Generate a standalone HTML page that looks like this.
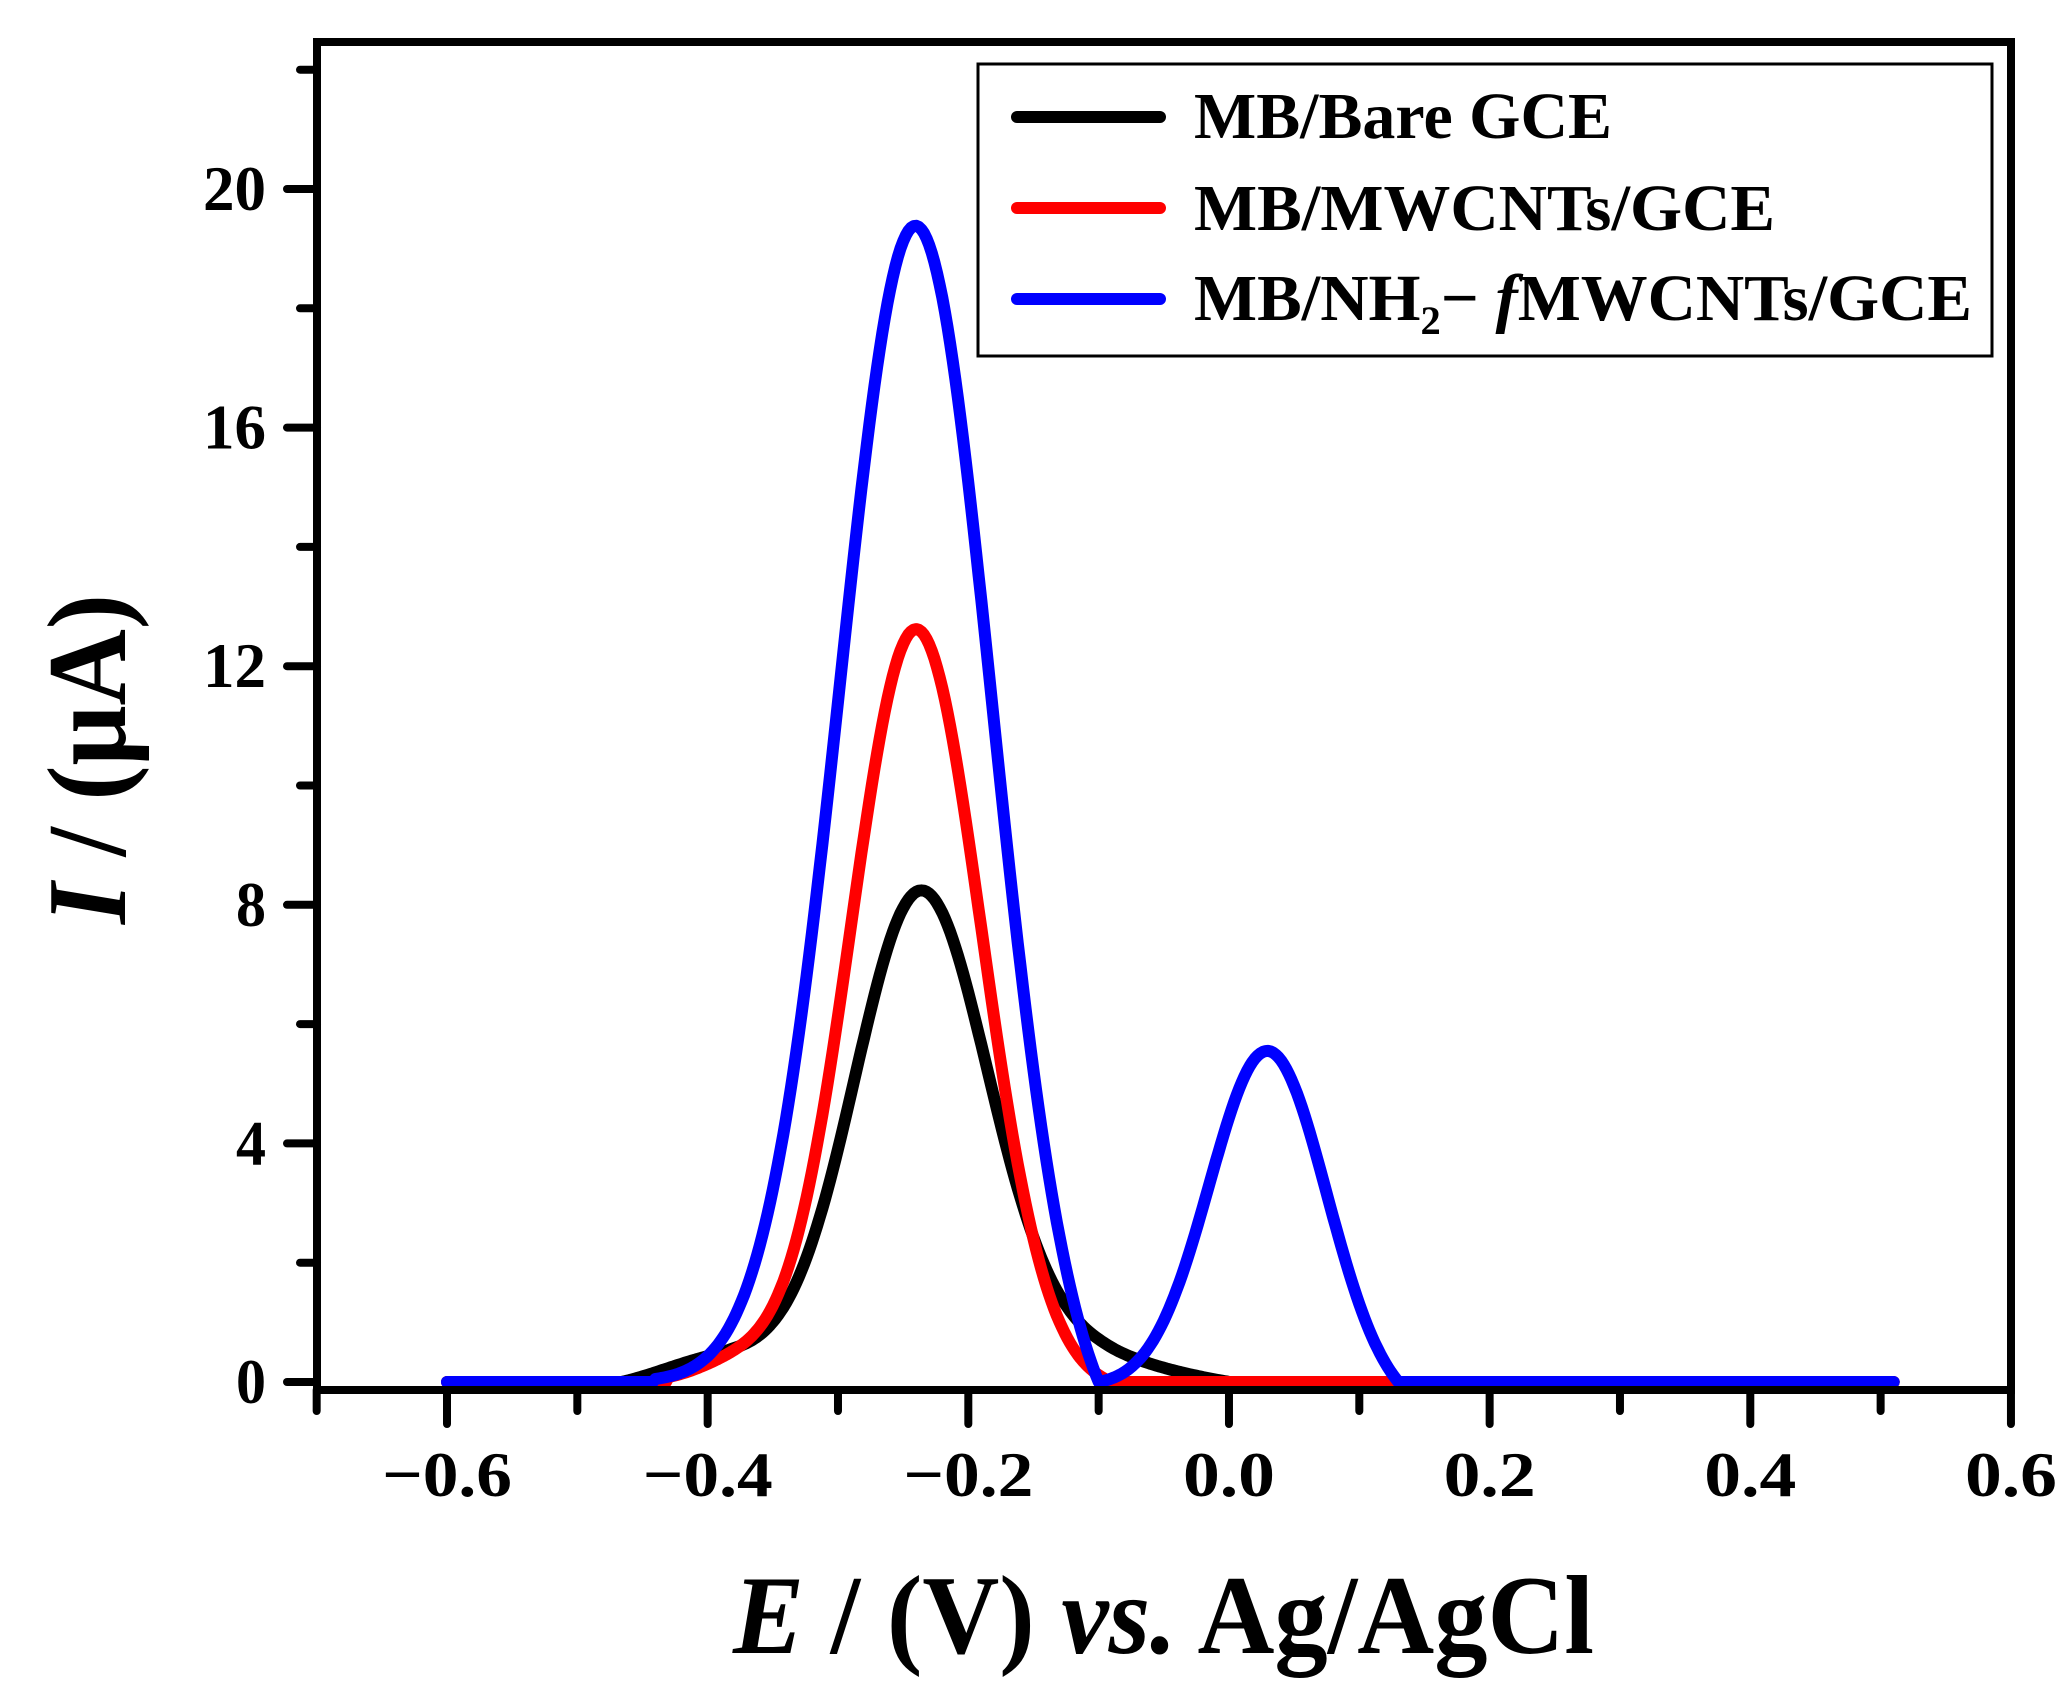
<!DOCTYPE html>
<html><head><meta charset="utf-8"><style>
html,body{margin:0;padding:0;background:#fff;}
svg{display:block;}
text{font-family:"Liberation Serif",serif;font-weight:bold;fill:#000;}
</style></head><body>
<svg id="s" width="2072" height="1690" viewBox="0 0 2072 1690" xmlns="http://www.w3.org/2000/svg">
<g id="ticks" stroke="#000" stroke-width="8" stroke-linecap="round"></g>
<g id="labels" font-size="64" font-weight="normal"></g>
<g fill="none" stroke-width="12" stroke-linejoin="round" stroke-linecap="round">
<path id="pk" stroke="#000"/>
<path id="pr" stroke="#ff0000"/>
<path id="pb" stroke="#0000ff"/>
</g>
<rect x="317" y="42" width="1694" height="1348" fill="none" stroke="#000" stroke-width="8"/>
<rect x="978" y="64" width="1014" height="292" fill="#fff" stroke="#000" stroke-width="3"/>
<line x1="1017" y1="117" x2="1160" y2="117" stroke="#000" stroke-width="12" stroke-linecap="round"/>
<line x1="1017" y1="208" x2="1160" y2="208" stroke="#ff0000" stroke-width="12" stroke-linecap="round"/>
<line x1="1017" y1="299" x2="1160" y2="299" stroke="#0000ff" stroke-width="12" stroke-linecap="round"/>
<text x="1194" y="138" font-size="66" textLength="418" lengthAdjust="spacingAndGlyphs">MB/Bare GCE</text>
<text x="1194" y="230" font-size="66" textLength="581" lengthAdjust="spacingAndGlyphs">MB/MWCNTs/GCE</text>
<text x="1194" y="320" font-size="66" textLength="778" lengthAdjust="spacingAndGlyphs">MB/NH<tspan font-size="40" dy="14">2</tspan><tspan dy="-14">− </tspan><tspan font-style="italic">f</tspan>MWCNTs/GCE</text>
<text x="733" y="1653" font-size="112" textLength="861" lengthAdjust="spacingAndGlyphs"><tspan font-style="italic">E</tspan> / (V) <tspan font-style="italic">vs.</tspan> Ag/AgCl</text>
<text transform="translate(125,924) rotate(-90)" x="0" y="0" font-size="112" textLength="330" lengthAdjust="spacingAndGlyphs"><tspan font-style="italic">I</tspan> / (μA)</text>
</svg>
<script>
const X=v=>447+(v+0.6)*1303.3, Y=v=>1382-v*59.65;
const NS="http://www.w3.org/2000/svg";
const tk=document.getElementById('ticks'), lb=document.getElementById('labels');
function el(p,tag,a,t){const e=document.createElementNS(NS,tag);for(const k in a)e.setAttribute(k,a[k]);if(t)e.textContent=t;p.appendChild(e);}
for(let i=-7;i<=6;i++){const x=X(i/10);const maj=(i%2===0);
 el(tk,'line',{x1:x,y1:1390,x2:x,y2:maj?1424:1411});
 if(maj){const s=(i<0?'−':'')+Math.abs(i/10).toFixed(1);
  el(lb,'text',{x:x,y:1496,'text-anchor':'middle',textLength:(i<0?130:92),lengthAdjust:'spacingAndGlyphs'},s);}}
for(let v=0;v<=22;v+=2){const y=Y(v);const maj=(v%4===0);
 el(tk,'line',{x1:317,y1:y,x2:maj?287:300,y2:y});
 if(maj)el(lb,'text',{x:266,y:y+21,'text-anchor':'end',textLength:(v>=10?63:30),lengthAdjust:'spacingAndGlyphs'},String(v));}
const g=(x,a,m,s)=>a*Math.exp(-(x-m)*(x-m)/(2*s*s));
function path(f,x0,x1){let d='';for(let x=x0;x<=x1+1e-9;x+=0.002){d+=(d?'L':'M')+X(x).toFixed(1)+','+Y(f(x)).toFixed(1);}return d;}
function black(x){if(x<-0.48||x>0)return 0;let v=g(x,7.4,-0.237,0.05)+g(x,0.9,-0.2,0.1)+g(x,0.3,-0.4,0.04);
 v-= 0.12*Math.max(0,(x+0.1)/0.1);v-=0.12*Math.max(0,1-(x+0.48)/0.1);return Math.max(0,v);}
function red(x){if(x<-0.43||x>-0.09)return 0;let v=g(x,12.7,-0.24,0.05)+g(x,0.3,-0.38,0.03);
 const b=g(-0.09,12.7,-0.24,0.05)*(x+0.43)/0.34;return Math.max(0,v-b);}
function blue(x){if(x<-0.44)return 0;
 if(x<=-0.1){let v=g(x,19.6,-0.24,0.058);const b=g(-0.1,19.6,-0.24,0.058)*Math.pow((x+0.44)/0.34,3);return Math.max(0,v-b);}
 if(x<=0.13){let v=g(x,5.55,0.03,0.045);const e=g(-0.1,5.55,0.03,0.045),e2=g(0.13,5.55,0.03,0.045);
  const b=e+(e2-e)*(x+0.1)/0.23;return Math.max(0,(v-b)*5.55/(5.55-(e+(e2-e)*0.13/0.23)));}
 return 0;}
document.getElementById('pk').setAttribute('d',path(black,-0.6,0.51));
document.getElementById('pr').setAttribute('d',path(red,-0.6,0.51));
document.getElementById('pb').setAttribute('d',path(blue,-0.6,0.51));
</script>
</body></html>
